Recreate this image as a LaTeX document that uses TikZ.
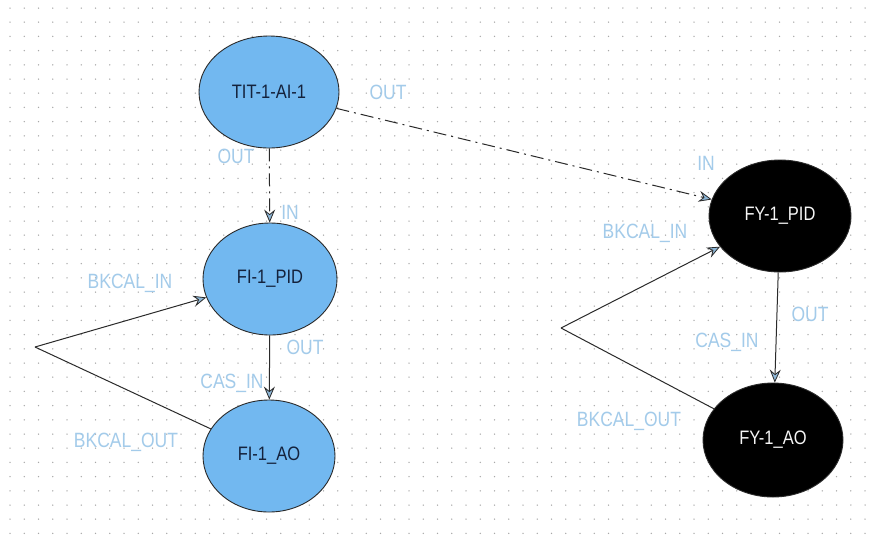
\documentclass[tikz,border=0pt]{standalone}
\usepackage{graphicx}
\usepackage{fontspec}
\setmainfont{Liberation Sans}
\usetikzlibrary{shapes.geometric,arrows.meta}

\definecolor{blockblue}{HTML}{72B8F0}
\definecolor{portblue}{HTML}{A3CBEA}
\definecolor{edgegray}{HTML}{2A2A2A}
\definecolor{tipfill}{HTML}{8DB6D6}
\definecolor{dotgray}{HTML}{A8A8A8}
\definecolor{navytext}{HTML}{14223C}

% slightly tall lettering, as the block editor draws it
\newcommand{\tallword}[1]{\scalebox{1}[1.18]{#1}}

\tikzset{
  block/.style={ellipse, draw=edgegray, line width=0.9pt, inner sep=0pt,
    minimum width=138pt, minimum height=112pt,
    font=\fontsize{16.5}{18}\selectfont},
  bluefb/.style={block, fill=blockblue, text=navytext},
  darkfb/.style={block, fill=black, text=white!92!gray},
  portlbl/.style={text=portblue, inner sep=0pt, font=\fontsize{17.5}{18}\selectfont},
  link/.style={draw=edgegray, line width=1pt,
    -{Stealth[length=13pt, width=11pt, inset=4.5pt, fill=tipfill, line width=0.8pt]}},
  plainlink/.style={draw=edgegray, line width=1pt},
  dashdotlink/.style={link, dash pattern=on 13pt off 5pt on 2pt off 5pt},
}

\begin{document}
\begin{tikzpicture}[x=1pt, y=-1pt]
  % canvas and dot grid
  \fill[white] (0,0) rectangle (872,542);
  \useasboundingbox (0,0) rectangle (872,542);
  \foreach \i in {0,...,60} {
    \foreach \j in {0,...,37} {
      \fill[dotgray] ({10+14.25*\i},{8+14.2*\j}) circle (0.75);
    }
  }

  % function blocks
  \node[bluefb, minimum width=140pt, minimum height=112pt] (tit) at (269,92) {\tallword{TIT-1-AI-1}};
  \node[bluefb, minimum width=134pt, minimum height=112pt] (fipid) at (270,279) {\tallword{FI-1\_PID}};
  \node[bluefb, minimum width=132pt, minimum height=112pt] (fiao) at (269,456) {\tallword{FI-1\_AO}};
  \node[darkfb, minimum width=142pt, minimum height=112pt] (fypid) at (780,216) {\tallword{FY-1\_PID}};
  \node[darkfb, minimum width=140pt, minimum height=114pt] (fyao) at (773,440) {\tallword{FY-1\_AO}};

  % turning points of the back-calculation loops
  \coordinate (lapex) at (35,347);
  \coordinate (rapex) at (561,328);

  % connections
  \draw[dashdotlink] (tit) -- (fipid);
  \draw[dashdotlink] (tit) -- (fypid);
  \draw[link] (fipid) -- (fiao);
  \draw[link] (fypid) -- (fyao);
  \draw[plainlink] (fiao) -- (lapex);
  \draw[link] (lapex) -- (fipid);
  \draw[plainlink] (fyao) -- (rapex);
  \draw[link] (rapex) -- (fypid);

  % port names
  \node[portlbl] (p1) at (388,92) {\tallword{OUT}};
  \node[portlbl] (p2) at (236,156) {\tallword{OUT}};
  \node[portlbl] (p3) at (290,212) {\tallword{IN}};
  \node[portlbl] (p4) at (305,347) {\tallword{OUT}};
  \node[portlbl] (p5) at (232,383) {\tallword{CAS\_IN}};
  \node[portlbl] (p6) at (130,283) {\tallword{BKCAL\_IN}};
  \node[portlbl] (p7) at (126,442) {\tallword{BKCAL\_OUT}};
  \node[portlbl] (p8) at (706,163) {\tallword{IN}};
  \node[portlbl] (p9) at (645,233) {\tallword{BKCAL\_IN}};
  \node[portlbl] (p10) at (810,314) {\tallword{OUT}};
  \node[portlbl] (p11) at (727,342) {\tallword{CAS\_IN}};
  \node[portlbl] (p12) at (629,421) {\tallword{BKCAL\_OUT}};
\end{tikzpicture}
\end{document}
